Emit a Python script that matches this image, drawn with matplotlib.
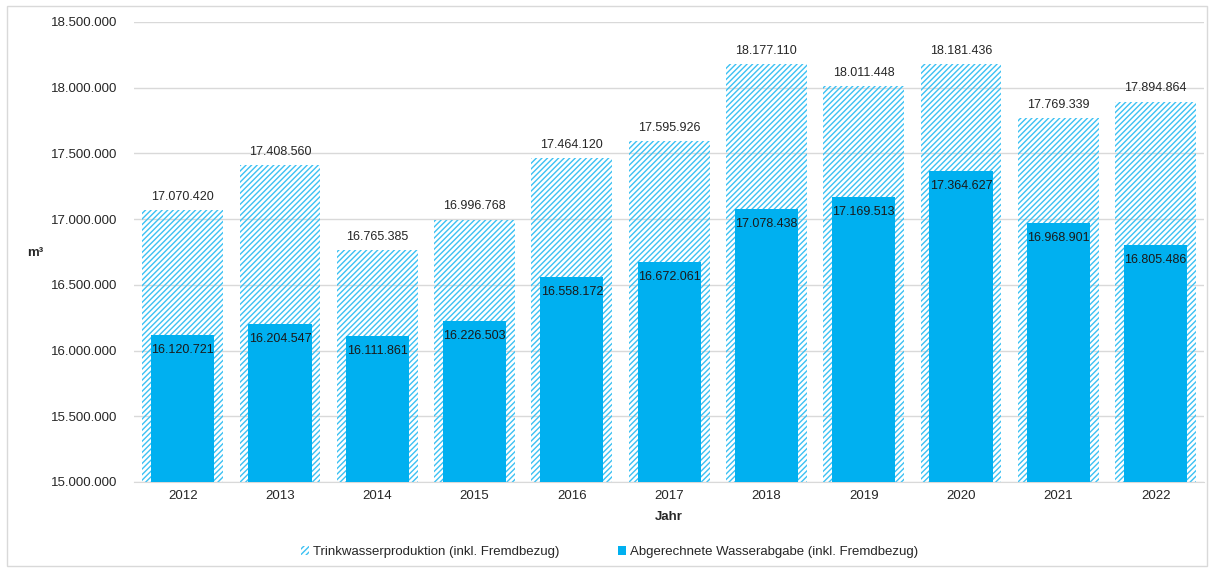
import matplotlib.pyplot as plt
import matplotlib.patches as mpatches
import matplotlib.ticker as ticker
import numpy as np

plt.rcParams['font.family'] = ['Liberation Sans', 'DejaVu Sans']
plt.rcParams['hatch.linewidth'] = 1.0

# Data
years = ['2012', '2013', '2014', '2015', '2016', '2017', '2018', '2019', '2020', '2021', '2022']
production = [17070420, 17408560, 16765385, 16996768, 17464120, 17595926,
              18177110, 18011448, 18181436, 17769339, 17894864]
delivered = [16120721, 16204547, 16111861, 16226503, 16558172, 16672061,
             17078438, 17169513, 17364627, 16968901, 16805486]

blue = '#00B0F0'
hatch_col = '#3CC1F3'

def fmt(v):
    return '{:,}'.format(int(v)).replace(',', '.')

fig = plt.figure(figsize=(12.12, 5.71), dpi=100)
ax = fig.add_axes([0.1106, 0.156, 0.883, 0.8055])

x = np.arange(len(years))
base = 15000000

# Outer hatched bars (production)
ax.bar(x, np.array(production) - base, bottom=base, width=0.83, color='none',
       edgecolor=hatch_col, hatch='//////', linewidth=0, zorder=2)
# Inner solid bars (delivered)
ax.bar(x, np.array(delivered) - base, bottom=base, width=0.65, color=blue,
       linewidth=0, zorder=3)

for i in range(len(years)):
    ax.text(x[i], production[i] + 55000, fmt(production[i]), ha='center', va='bottom',
            fontsize=9, color='#262626', zorder=4)
    ax.text(x[i], delivered[i] - 70000, fmt(delivered[i]), ha='center', va='top',
            fontsize=9, color='#1a1a1a', zorder=4)

ax.set_xlim(-0.5, len(years) - 0.5)
ax.set_ylim(15000000, 18500000)
ax.yaxis.set_major_locator(ticker.MultipleLocator(500000))
ax.yaxis.set_major_formatter(ticker.FuncFormatter(lambda v, p: fmt(v)))
ax.set_xticks(x)
ax.set_xticklabels(years)
ax.tick_params(axis='both', length=0, labelsize=9.5, colors='#262626')
ax.tick_params(axis='y', pad=12)
ax.tick_params(axis='x', pad=6)
ax.grid(axis='y', color='#d9d9d9', linewidth=1, zorder=0)
ax.set_axisbelow(True)
for s in ['top', 'right', 'left']:
    ax.spines[s].set_visible(False)
ax.spines['bottom'].set_color('#d9d9d9')

ax.set_xlabel('Jahr', fontsize=9.5, fontweight='bold', color='#262626', labelpad=6)
fig.text(0.029, 0.557, 'm³', fontsize=9.5, fontweight='bold', color='#262626',
         ha='center', va='center')

h1 = mpatches.Patch(facecolor='none', edgecolor=hatch_col, hatch='//////', linewidth=0,
                    label='Trinkwasserproduktion (inkl. Fremdbezug)')
h2 = mpatches.Patch(facecolor=blue, linewidth=0,
                    label='Abgerechnete Wasserabgabe (inkl. Fremdbezug)')
fig.legend(handles=[h1, h2], loc='center', bbox_to_anchor=(0.503, 0.033), ncol=2,
           frameon=False, fontsize=9.5, handlelength=0.6, handleheight=0.6,
           handletextpad=0.3, columnspacing=4.5, labelcolor='#262626')

# figure border
fig.patches.append(mpatches.Rectangle((0.006, 0.008), 0.99, 0.982, transform=fig.transFigure,
                                      fill=False, edgecolor='#d9d9d9', linewidth=1))

fig.savefig('out.png', dpi=100)
